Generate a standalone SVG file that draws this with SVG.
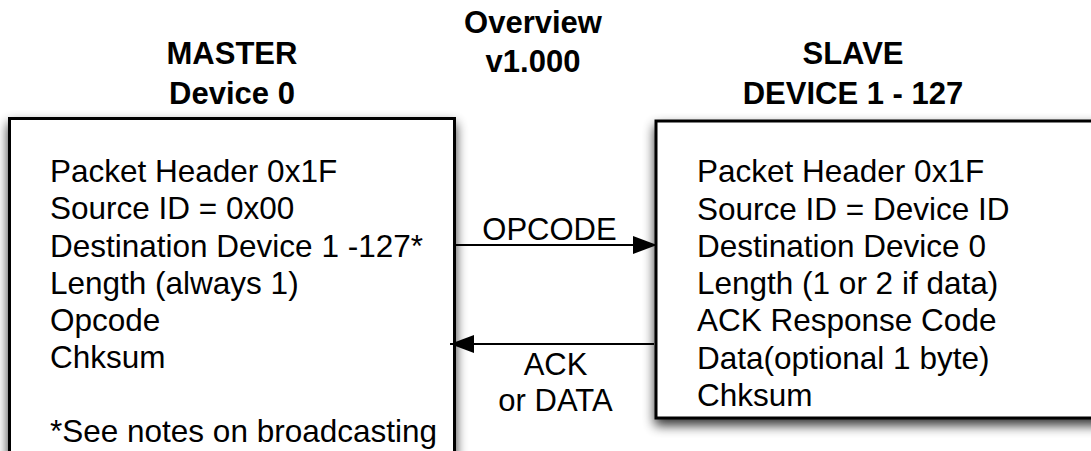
<svg xmlns="http://www.w3.org/2000/svg" width="1091" height="451" viewBox="0 0 1091 451">
<style>
  .hdr { font-family: "Liberation Sans", Arial, sans-serif; font-weight: bold; font-size: 31px; fill: #000; text-anchor: middle; }
  .body { font-family: "Liberation Sans", Arial, sans-serif; font-size: 31.5px; fill: #000; }
  .lbl { font-family: "Liberation Sans", Arial, sans-serif; font-size: 31px; fill: #000; text-anchor: middle; }
  .box { fill: #fff; stroke: #000; stroke-width: 3; }
  .conn { stroke: #000; stroke-width: 2; fill: none; }
</style>
<defs>
  <filter id="shadow" x="-10%" y="-10%" width="120%" height="130%">
    <feGaussianBlur in="SourceAlpha" stdDeviation="6"/>
    <feOffset dx="0" dy="6" result="b"/>
    <feComponentTransfer><feFuncA type="linear" slope="0.8"/></feComponentTransfer>
    <feMerge><feMergeNode/><feMergeNode in="SourceGraphic"/></feMerge>
  </filter>
  <marker id="arrow" viewBox="0 0 24 18" refX="24" refY="9" markerWidth="24" markerHeight="18" markerUnits="userSpaceOnUse" orient="auto">
    <path d="M0,0 L24,9 L0,18 Z" fill="#000"/>
  </marker>
</defs>
<rect width="1091" height="451" fill="#fff"/>

<g id="title">
  <text class="hdr" x="533" y="33">Overview</text>
  <text class="hdr" x="533" y="72">v1.000</text>
</g>

<g id="master">
  <text class="hdr" x="232" y="64">MASTER</text>
  <text class="hdr" x="232" y="104">Device 0</text>
  <rect class="box" x="9.5" y="118.5" width="445" height="400" filter="url(#shadow)"/>
  <text class="body" x="50" y="182">Packet Header 0x1F</text>
  <text class="body" x="50" y="219">Source ID = 0x00</text>
  <text class="body" x="50" y="256.5">Destination Device 1 -127*</text>
  <text class="body" x="50" y="293.5">Length (always 1)</text>
  <text class="body" x="50" y="330.5">Opcode</text>
  <text class="body" x="50" y="368">Chksum</text>
  <text class="body" x="50" y="442">*See notes on broadcasting</text>
</g>

<g id="slave">
  <text class="hdr" x="853" y="64">SLAVE</text>
  <text class="hdr" x="853" y="104">DEVICE 1 - 127</text>
  <rect class="box" x="656" y="121" width="500" height="297" filter="url(#shadow)"/>
  <text class="body" x="697" y="182">Packet Header 0x1F</text>
  <text class="body" x="697" y="219.5">Source ID = Device ID</text>
  <text class="body" x="697" y="256.5">Destination Device 0</text>
  <text class="body" x="697" y="293.5">Length (1 or 2 if data)</text>
  <text class="body" x="697" y="331">ACK Response Code</text>
  <text class="body" x="697" y="368.5">Data(optional 1 byte)</text>
  <text class="body" x="697" y="405.5">Chksum</text>
</g>

<g id="connectors">
  <line class="conn" x1="456" y1="245" x2="657" y2="245" marker-end="url(#arrow)"/>
  <text class="lbl" x="549.5" y="240">OPCODE</text>
  <line class="conn" x1="654" y1="344" x2="450" y2="344" marker-end="url(#arrow)"/>
  <text class="lbl" x="555.5" y="375">ACK</text>
  <text class="lbl" x="555.5" y="411">or DATA</text>
</g>
</svg>
